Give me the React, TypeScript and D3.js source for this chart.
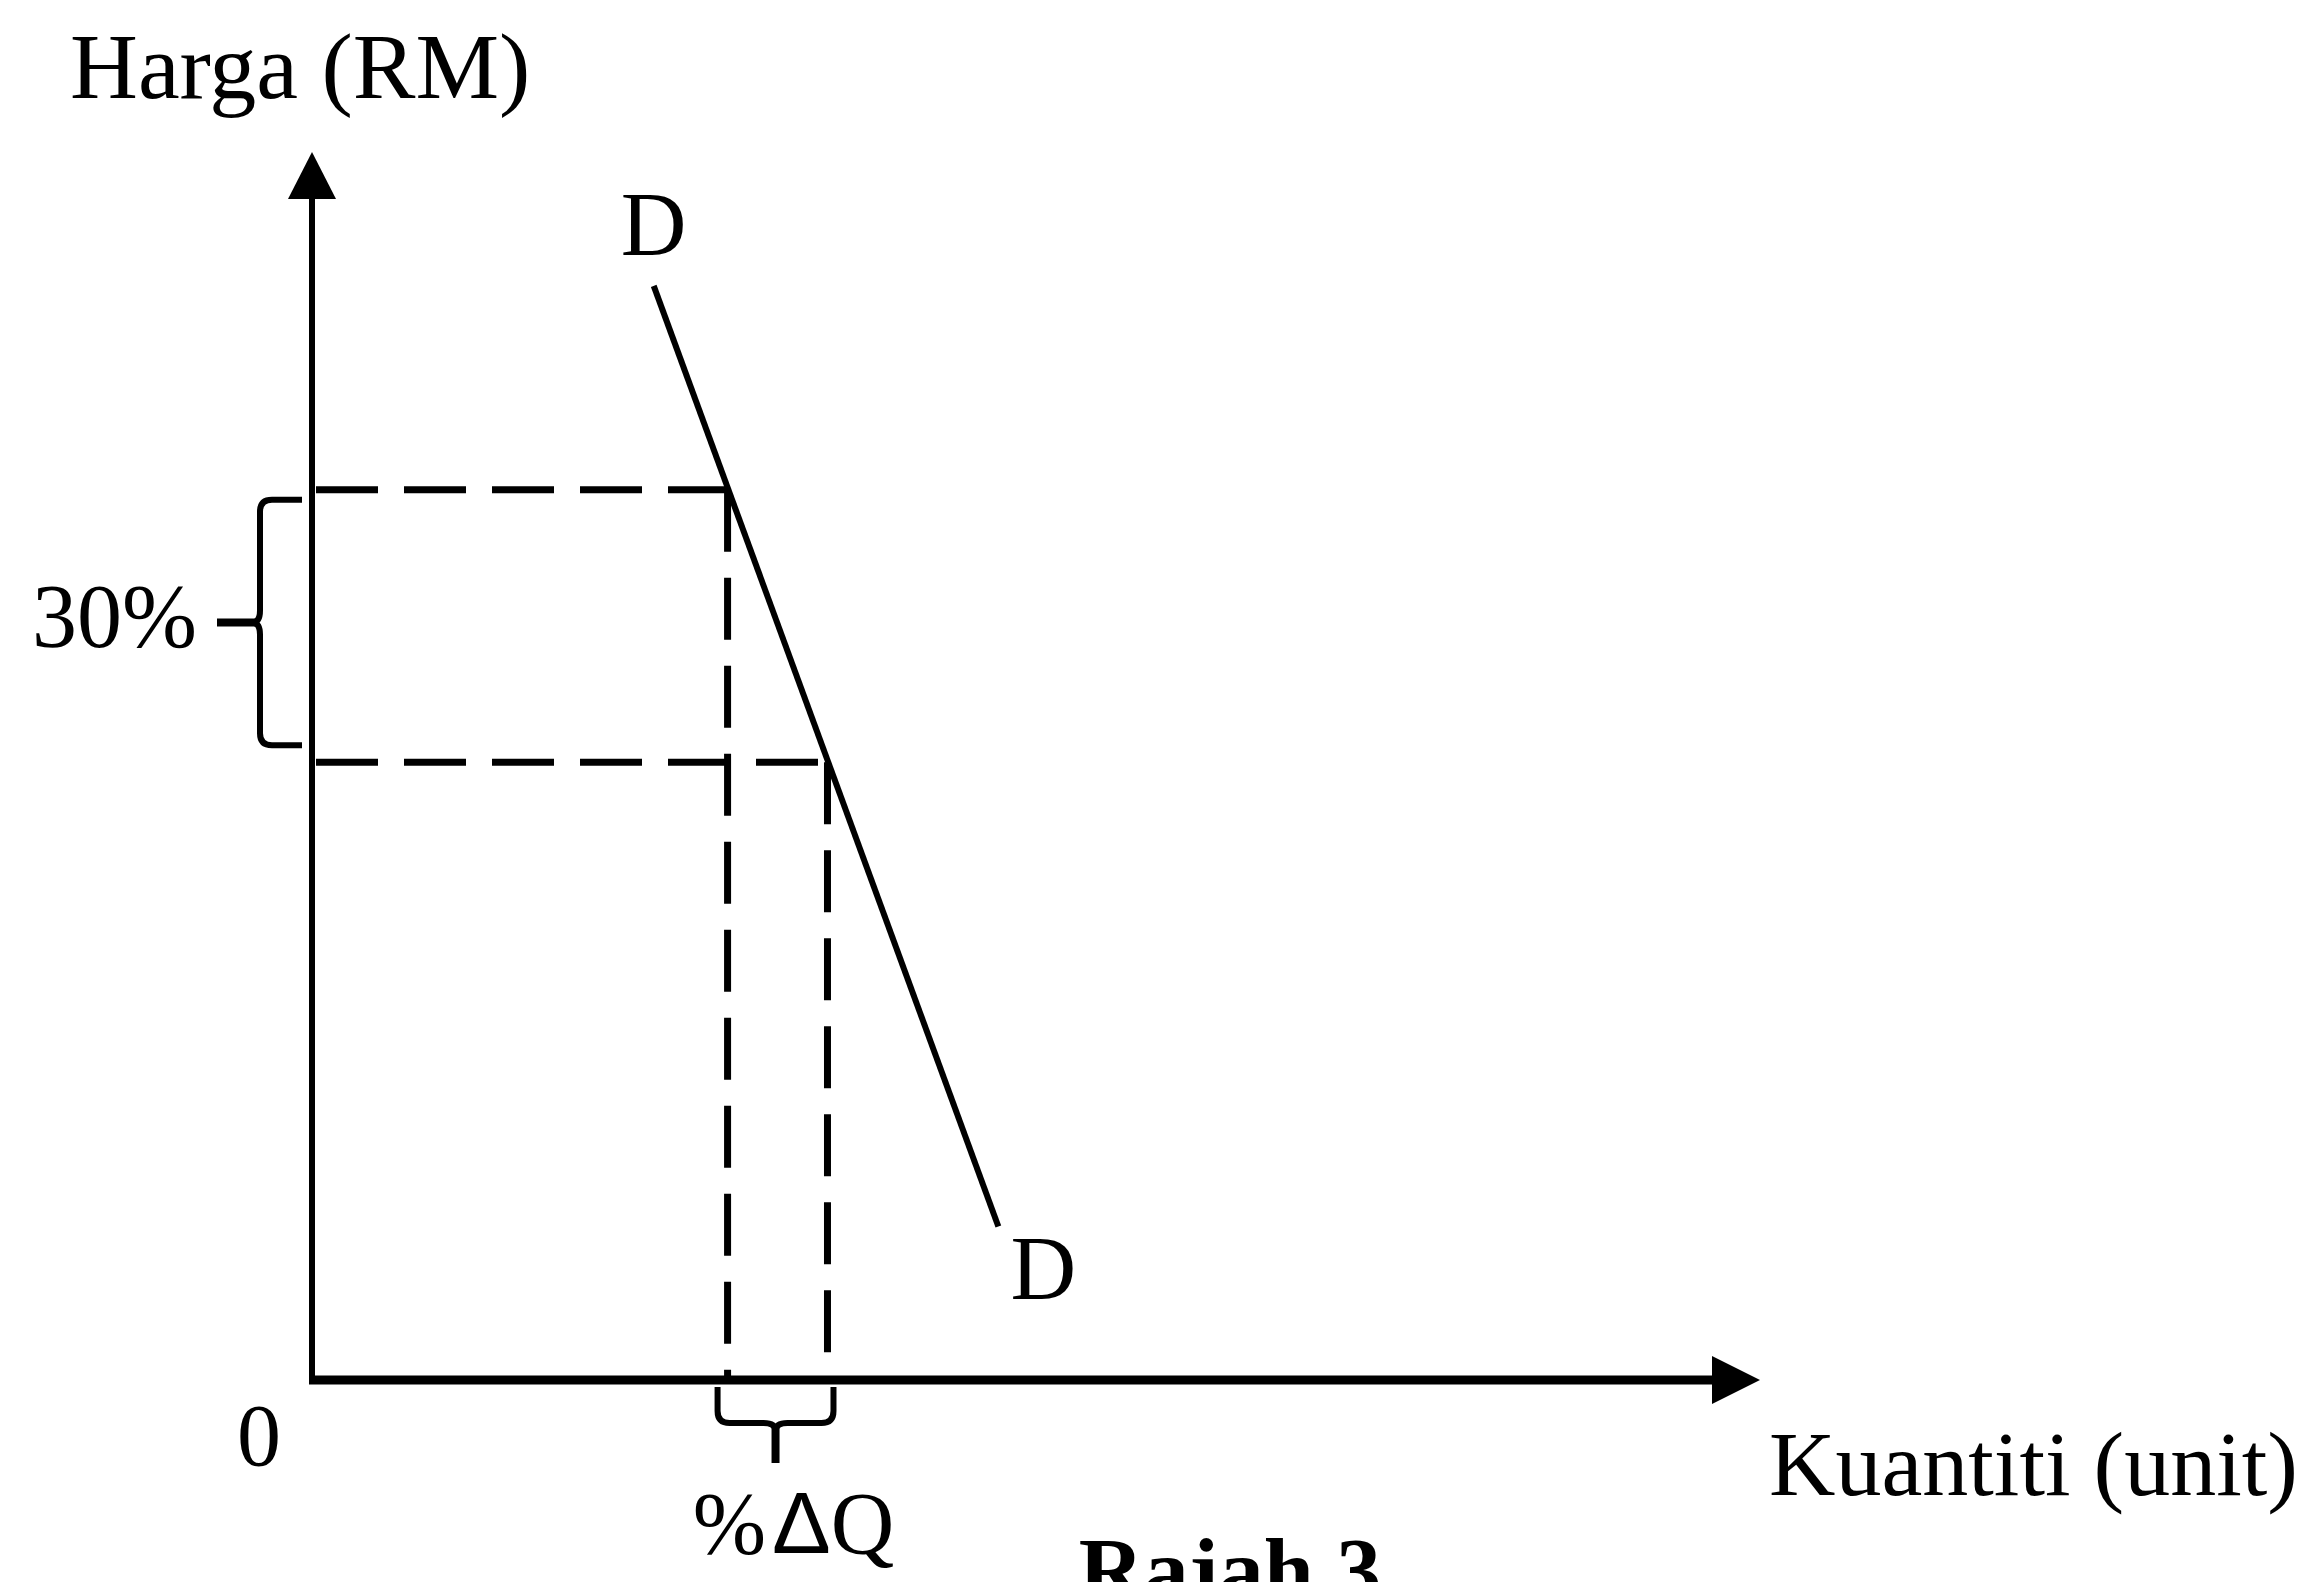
import React from "react";
import * as d3 from "d3";

// ---- data (quantity units, price units) ----
const quantityDomain = [0, 100];
const priceDomain = [0, 100];
const demandCurve: [number, number][] = [
  [23.6, 89.1],
  [47.4, 12.5],
];
const prices = [72.5, 50.3]; // P1 (higher), P2 (lower) – 30% change
const quantities = [28.7, 35.6]; // Q1, Q2
const curveLabels = ["D", "D"];
const priceChangeLabel = "30%";
const quantityChangeLabel = ["%", "Δ", "Q"];
const originLabel = "0";
const yAxisTitle = "Harga (RM)";
const xAxisTitle = "Kuantiti (unit)";
const figureCaption = "Rajah 3";

const W = 2321;
const H = 1582;
const SERIF = "'Liberation Serif', 'Times New Roman', serif";
const SANS = "'Liberation Sans', Arial, sans-serif";

export default function App() {
  const x = d3.scaleLinear().domain(quantityDomain).range([312, 1760]);
  const y = d3.scaleLinear().domain(priceDomain).range([1380, 152]);

  const x0 = x(0);
  const y0 = y(0);
  const xEnd = x(quantityDomain[1]);
  const yEnd = y(priceDomain[1]);

  const line = d3
    .line<[number, number]>()
    .x((d) => x(d[0]))
    .y((d) => y(d[1]));

  const [p1, p2] = prices.map((p) => y(p));
  const [q1, q2] = quantities.map((q) => x(q));

  // Left brace (vertical) for price change
  const bTop = p1 + 10;
  const bBot = p2 - 17;
  const bMid = (bTop + bBot) / 2;
  const bx = x0 - 52;
  const bArm = x0 - 10;
  const r = 12;
  const leftBrace = [
    `M${bArm},${bTop}`,
    `L${bx + r},${bTop}`,
    `Q${bx},${bTop} ${bx},${bTop + r}`,
    `L${bx},${bMid - 12}`,
    `Q${bx},${bMid} ${bx - 8},${bMid}`,
    `Q${bx},${bMid} ${bx},${bMid + 12}`,
    `L${bx},${bBot - r}`,
    `Q${bx},${bBot} ${bx + r},${bBot}`,
    `L${bArm},${bBot}`,
  ].join(" ");

  // Bottom brace (horizontal) for quantity change
  const cL = q1 - 10;
  const cR = q2 + 6;
  const cTop = y0 + 7;
  const cy = y0 + 43;
  const cMid = (cL + cR) / 2;
  const bottomBrace = [
    `M${cL},${cTop}`,
    `L${cL},${cy - r}`,
    `Q${cL},${cy} ${cL + r},${cy}`,
    `L${cMid - 12},${cy}`,
    `Q${cMid},${cy} ${cMid},${cy + 8}`,
    `Q${cMid},${cy} ${cMid + 12},${cy}`,
    `L${cR - r},${cy}`,
    `Q${cR},${cy} ${cR},${cy - r}`,
    `L${cR},${cTop}`,
  ].join(" ");

  const dash = "62 26";
  const dStart = demandCurve[0];
  const dEnd = demandCurve[1];

  return (
    <svg
      width={W}
      height={H}
      viewBox={`0 0 ${W} ${H}`}
      style={{ position: "absolute", left: 0, top: 0, display: "block", background: "#fff" }}
    >
      <rect x={0} y={0} width={W} height={H} fill="#fff" />

      {/* dashed guide lines */}
      <g stroke="#000" strokeWidth={7} strokeDasharray={dash} fill="none">
        <line x1={x0} y1={p1} x2={q1} y2={p1} strokeDashoffset={-4} />
        <line x1={x0} y1={p2} x2={q2} y2={p2} strokeDashoffset={-4} />
        <line x1={q1} y1={p1} x2={q1} y2={y0} />
        <line x1={q2} y1={p2} x2={q2} y2={y0} />
      </g>

      {/* axes */}
      <line x1={x0} y1={y0} x2={x0} y2={yEnd + 40} stroke="#000" strokeWidth={6} />
      <path d={`M${x0},${yEnd} L${x0 - 24},${yEnd + 47} L${x0 + 24},${yEnd + 47} Z`} fill="#000" />
      <line x1={x0 - 3} y1={y0} x2={xEnd - 40} y2={y0} stroke="#000" strokeWidth={9} />
      <path d={`M${xEnd},${y0} L${xEnd - 48},${y0 - 24} L${xEnd - 48},${y0 + 24} Z`} fill="#000" />

      {/* demand curve */}
      <path d={line(demandCurve) || ""} stroke="#000" strokeWidth={6} fill="none" />

      {/* braces */}
      <path d={leftBrace} stroke="#000" strokeWidth={6} fill="none" strokeLinejoin="round" />
      <line x1={bx - 43} y1={bMid} x2={bx - 4} y2={bMid} stroke="#000" strokeWidth={8} />
      <path d={bottomBrace} stroke="#000" strokeWidth={6} fill="none" strokeLinejoin="round" />
      <line x1={cMid} y1={cy + 4} x2={cMid} y2={cy + 40} stroke="#000" strokeWidth={8} />

      {/* text */}
      <g fontFamily={SERIF} fill="#000">
        <text x={70} y={98} fontSize={94}>{yAxisTitle}</text>
        <text x={x(dStart[0])} y={y(dStart[1]) - 31} fontSize={91} textAnchor="middle">{curveLabels[0]}</text>
        <text x={x(dEnd[0]) + 45} y={y(dEnd[1]) + 72} fontSize={91} textAnchor="middle">{curveLabels[1]}</text>
        <text x={bx - 63} y={bMid + 24} fontSize={90} textAnchor="end">{priceChangeLabel}</text>
        <text x={x0 - 53} y={y0 + 85} fontSize={88} textAnchor="middle">{originLabel}</text>
        <text x={1769} y={1495} fontSize={92}>{xAxisTitle}</text>
        <text x={cMid + 18} y={1553} fontSize={88} textAnchor="middle">
          <tspan>{quantityChangeLabel[0]}</tspan>
          <tspan fontFamily={SANS} dx={6}>{quantityChangeLabel[1]}</tspan>
          <tspan>{quantityChangeLabel[2]}</tspan>
        </text>
        <text x={1230} y={1601} fontSize={90} fontWeight="bold" textAnchor="middle">{figureCaption}</text>
      </g>
    </svg>
  );
}
